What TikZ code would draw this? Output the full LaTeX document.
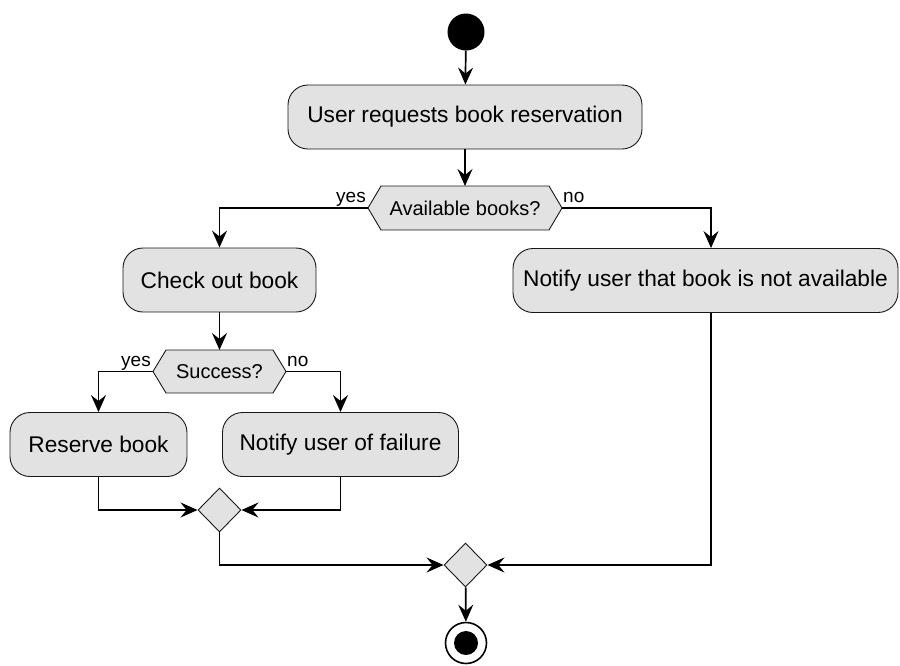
\documentclass[tikz,border=0pt]{standalone}
\usepackage{fontspec}
\setmainfont{Liberation Sans}
\usetikzlibrary{arrows.meta,shapes.geometric,calc}
\definecolor{boxfill}{HTML}{E2E2E2}
\definecolor{boxline}{HTML}{181818}
\begin{document}
\begin{tikzpicture}[x=1pt,y=-1pt,
  act/.style={draw=boxline,fill=boxfill,line width=0.9pt,rounded corners=20pt,minimum height=64pt,inner sep=0pt,font=\fontsize{22.7}{26}\selectfont},
  hexshape/.style={draw=boxline,fill=boxfill,line width=0.9pt},
  hextext/.style={inner sep=0pt,font=\fontsize{20}{24}\selectfont},
  merge/.style={diamond,draw=boxline,fill=boxfill,line width=0.9pt,minimum width=43pt,minimum height=44pt,inner sep=0pt},
  flow/.style={line width=1.7pt,-{Stealth[length=17pt,width=15pt,inset=6pt]}},
  lbl/.style={font=\fontsize{19}{22}\selectfont,inner sep=0pt}]
\path[use as bounding box] (0,0) rectangle (900,665);

% start
\node[circle,fill=black,minimum size=37pt,inner sep=0pt] (start) at (466,32) {};
\node[act,minimum width=354pt] (req) at (465,117) {User requests book reservation};

% decision: available books?
\draw[hexshape] (368,208) -- (381,186) -- (549,186) -- (562,208) -- (549,230) -- (381,230) -- cycle;
\node[hextext] (avail) at (465,208) {Available books?};
\coordinate (availW) at (368,208);
\coordinate (availE) at (562,208);
\coordinate (availN) at (465,186);
\node[lbl,anchor=base east] (yes1) at (366,202.5) {yes};
\node[lbl,anchor=base west] (no1) at (563,202.5) {no};

\node[act,minimum width=193pt] (check) at (219.5,280) {Check out book};
\node[act,minimum width=385pt] (nona) at (705.5,280.5) {Notify user that book is not available};

% decision: success?
\draw[hexshape] (153,371.5) -- (166,350) -- (273,350) -- (286,371.5) -- (273,393) -- (166,393) -- cycle;
\node[hextext] (succ) at (219.5,371.5) {Success?};
\coordinate (succW) at (153,371.5);
\coordinate (succE) at (286,371.5);
\coordinate (succN) at (219.5,350);
\node[lbl,anchor=base east] (yes2) at (151,366.5) {yes};
\node[lbl,anchor=base west] (no2) at (287,366.5) {no};

\node[act,minimum width=177pt] (res) at (98.5,444.5) {Reserve book};
\node[act,minimum width=236pt] (fail) at (340.5,444.5) {Notify user of failure};

\node[merge] (m1) at (219.5,510) {};
\node[merge] (m2) at (465.5,565) {};

% end
\node[circle,draw=black,line width=1.6pt,fill=white,minimum size=41pt,inner sep=0pt] (end) at (466,643) {};
\node[circle,fill=black,minimum size=24pt,inner sep=0pt] (endin) at (end.center) {};

% connectors
\draw[flow] (start) -- (req);
\draw[flow] (req) -- (availN);
\draw[flow] (availW) -| (check);
\draw[flow] (availE) -| ([xshift=5.5pt]nona.north);
\draw[flow] (check) -- (succN);
\draw[flow] (succW) -| (res);
\draw[flow] (succE) -| (fail);
\draw[flow] (res) |- (m1);
\draw[flow] (fail) |- (m1);
\draw[flow] (m1) |- (m2);
\draw[flow] ([xshift=5.5pt]nona.south) |- (m2);
\draw[flow] (m2) -- (end);
\end{tikzpicture}
\end{document}
